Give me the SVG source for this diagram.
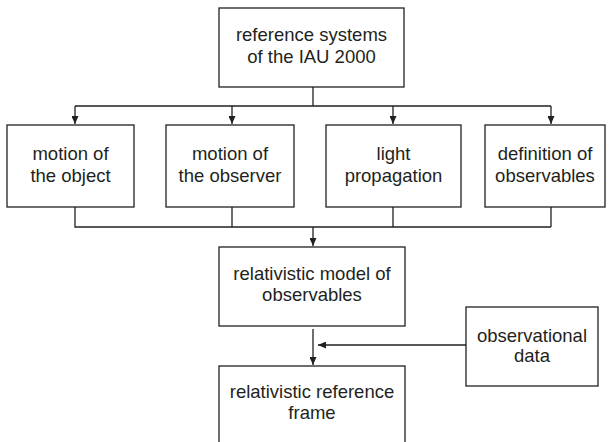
<svg xmlns="http://www.w3.org/2000/svg" width="612" height="442" viewBox="0 0 612 442">
<style>
.box{fill:#fff;stroke:#231f20;stroke-width:1.3}
.ln{fill:none;stroke:#231f20;stroke-width:1.3}
text{font-family:"Liberation Sans",Arial,sans-serif;font-size:18.5px;fill:#231f20;text-anchor:middle}
</style>
<defs>
<marker id="ah" viewBox="0 0 10 10" refX="10" refY="5" markerWidth="8" markerHeight="7" markerUnits="userSpaceOnUse" orient="auto" preserveAspectRatio="none">
<path d="M0,0 L10,5 L0,10 z" fill="#231f20"/>
</marker>
</defs>
<g id="connectors">
<path class="ln" d="M313,87 V106 M75,106 H551"/>
<path class="ln" d="M75,106 V124" marker-end="url(#ah)"/>
<path class="ln" d="M232,106 V124" marker-end="url(#ah)"/>
<path class="ln" d="M393,106 V124" marker-end="url(#ah)"/>
<path class="ln" d="M551,106 V124" marker-end="url(#ah)"/>
<path class="ln" d="M75,207 V227 H551 M232,207 V227 M393,207 V227 M551,207 V227"/>
<path class="ln" d="M313,227 V246" marker-end="url(#ah)"/>
<path class="ln" d="M313,329 V365" marker-end="url(#ah)"/>
<path class="ln" d="M466,345 H318" marker-end="url(#ah)"/>
</g>
<g id="n-iau">
<rect class="box" x="219" y="8" width="185" height="79"/>
<text x="311.5" y="41">reference systems</text>
<text x="311.5" y="63">of the IAU 2000</text>
</g>
<g id="n-object">
<rect class="box" x="7" y="125" width="127" height="82"/>
<text x="70.5" y="160">motion of</text>
<text x="70.5" y="182">the object</text>
</g>
<g id="n-observer">
<rect class="box" x="166" y="125" width="128" height="82"/>
<text x="230" y="160">motion of</text>
<text x="230" y="182">the observer</text>
</g>
<g id="n-light">
<rect class="box" x="326" y="125" width="135" height="82"/>
<text x="393.5" y="160">light</text>
<text x="393.5" y="182">propagation</text>
</g>
<g id="n-definition">
<rect class="box" x="485" y="125" width="120" height="82"/>
<text x="545" y="160">definition of</text>
<text x="545" y="182">observables</text>
</g>
<g id="n-model">
<rect class="box" x="219" y="247" width="186" height="79"/>
<text x="312" y="280">relativistic model of</text>
<text x="312" y="301">observables</text>
</g>
<g id="n-data">
<rect class="box" x="466" y="307" width="132" height="79"/>
<text x="532" y="342">observational</text>
<text x="532" y="362">data</text>
</g>
<g id="n-frame">
<rect class="box" x="219" y="366" width="186" height="90"/>
<text x="312" y="398">relativistic reference</text>
<text x="312" y="419">frame</text>
</g>
</svg>
